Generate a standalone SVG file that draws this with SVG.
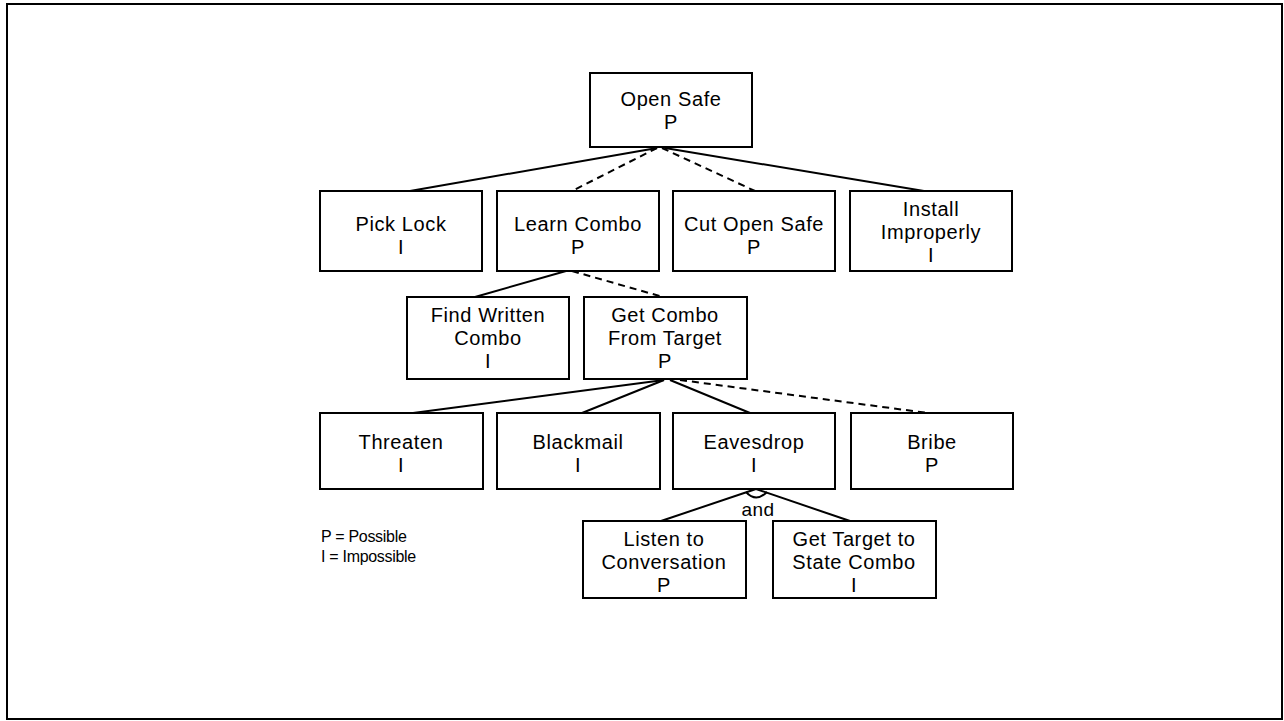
<svg xmlns="http://www.w3.org/2000/svg" width="1284" height="721" viewBox="0 0 1284 721">
  <style>
    .frame { fill: #ffffff; stroke: #000000; stroke-width: 2; }
    .node rect { fill: #ffffff; stroke: #000000; stroke-width: 2; }
    .node text { font-family: "Liberation Sans", Arial, sans-serif; font-size: 20px; letter-spacing: 0.6px; fill: #000000; text-anchor: middle; }
    .edge { stroke: #000000; stroke-width: 2; fill: none; }
    .dash { stroke-dasharray: 7 5; }
    .legend { font-family: "Liberation Sans", Arial, sans-serif; font-size: 16px; fill: #000000; letter-spacing: -0.3px; }
    .andlabel { font-family: "Liberation Sans", Arial, sans-serif; font-size: 19px; letter-spacing: 0.5px; fill: #000000; text-anchor: middle; }
  </style>

  <!-- page frame -->
  <rect x="0" y="0" width="1284" height="721" fill="#ffffff"/>
  <rect class="frame" x="7" y="4" width="1275" height="715"/>

  <!-- connectors -->
  <g id="connectors">
    <!-- Open Safe children -->
    <line class="edge" x1="657" y1="148" x2="410" y2="191"/>
    <line class="edge dash" x1="657" y1="148" x2="572" y2="191"/>
    <line class="edge dash" x1="662" y1="148" x2="755" y2="191"/>
    <line class="edge" x1="665" y1="148" x2="924" y2="191"/>
    <!-- Learn Combo children -->
    <line class="edge" x1="566" y1="271" x2="475" y2="297"/>
    <line class="edge dash" x1="572" y1="271" x2="663" y2="297"/>
    <!-- Get Combo From Target children -->
    <line class="edge" x1="664" y1="380" x2="413" y2="413"/>
    <line class="edge" x1="664" y1="380" x2="582" y2="413"/>
    <line class="edge" x1="670" y1="380" x2="750" y2="413"/>
    <line class="edge dash" x1="680" y1="380" x2="928" y2="413"/>
    <!-- Eavesdrop children (AND) -->
    <line class="edge" x1="756" y1="489" x2="661" y2="521"/>
    <line class="edge" x1="756" y1="489" x2="850" y2="521"/>
    <path class="edge" d="M 746 492 Q 756 503 767 492"/>
    <text class="andlabel" x="758" y="516">and</text>
  </g>

  <!-- row 0 -->
  <g id="open-safe" class="node">
    <rect x="590" y="73" width="162" height="74"/>
    <text x="671" y="106">Open Safe</text>
    <text x="671" y="129">P</text>
  </g>

  <!-- row 1 -->
  <g id="pick-lock" class="node">
    <rect x="320" y="191" width="162" height="80"/>
    <text x="401" y="231">Pick Lock</text>
    <text x="401" y="254">I</text>
  </g>
  <g id="learn-combo" class="node">
    <rect x="497" y="191" width="162" height="80"/>
    <text x="578" y="231">Learn Combo</text>
    <text x="578" y="254">P</text>
  </g>
  <g id="cut-open-safe" class="node">
    <rect x="673" y="191" width="162" height="80"/>
    <text x="754" y="231">Cut Open Safe</text>
    <text x="754" y="254">P</text>
  </g>
  <g id="install-improperly" class="node">
    <rect x="850" y="191" width="162" height="80"/>
    <text x="931" y="216">Install</text>
    <text x="931" y="239">Improperly</text>
    <text x="931" y="262">I</text>
  </g>

  <!-- row 2 -->
  <g id="find-written-combo" class="node">
    <rect x="407" y="297" width="162" height="82"/>
    <text x="488" y="322">Find Written</text>
    <text x="488" y="345">Combo</text>
    <text x="488" y="368">I</text>
  </g>
  <g id="get-combo-from-target" class="node">
    <rect x="584" y="297" width="163" height="82"/>
    <text x="665" y="322">Get Combo</text>
    <text x="665" y="345">From Target</text>
    <text x="665" y="368">P</text>
  </g>

  <!-- row 3 -->
  <g id="threaten" class="node">
    <rect x="320" y="413" width="163" height="76"/>
    <text x="401" y="449">Threaten</text>
    <text x="401" y="472">I</text>
  </g>
  <g id="blackmail" class="node">
    <rect x="497" y="413" width="163" height="76"/>
    <text x="578" y="449">Blackmail</text>
    <text x="578" y="472">I</text>
  </g>
  <g id="eavesdrop" class="node">
    <rect x="673" y="413" width="162" height="76"/>
    <text x="754" y="449">Eavesdrop</text>
    <text x="754" y="472">I</text>
  </g>
  <g id="bribe" class="node">
    <rect x="851" y="413" width="162" height="76"/>
    <text x="932" y="449">Bribe</text>
    <text x="932" y="472">P</text>
  </g>

  <!-- row 4 -->
  <g id="listen-to-conversation" class="node">
    <rect x="583" y="521" width="163" height="77"/>
    <text x="664" y="546">Listen to</text>
    <text x="664" y="569">Conversation</text>
    <text x="664" y="592">P</text>
  </g>
  <g id="get-target-to-state-combo" class="node">
    <rect x="773" y="521" width="163" height="77"/>
    <text x="854" y="546">Get Target to</text>
    <text x="854" y="569">State Combo</text>
    <text x="854" y="592">I</text>
  </g>

  <!-- key -->
  <g id="legend">
    <text class="legend" x="321" y="542">P = Possible</text>
    <text class="legend" x="321" y="562">I = Impossible</text>
  </g>
</svg>
